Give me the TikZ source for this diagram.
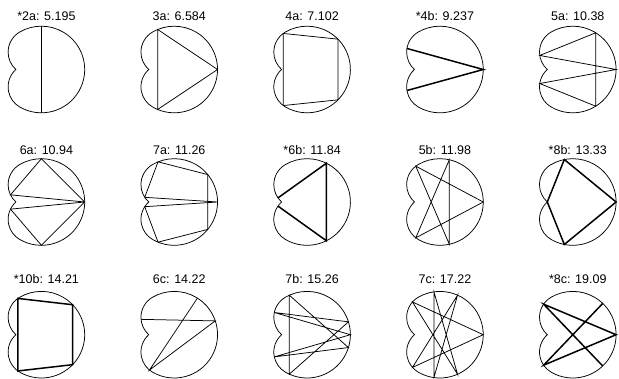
\documentclass[tikz,border=0pt]{standalone}
\usepackage{fontspec}
\setmainfont{Liberation Sans}
\usetikzlibrary{calc}
\newcommand\kidney[1]{\draw[outline] ($(#1)+(-120.1:43.3)$) arc[start angle=-120.1,end angle=120.1,radius=43.3] arc[start angle=120.1,end angle=228.37,radius=23.23] arc[start angle=131.63,end angle=239.9,radius=23.23] -- cycle;}
\newcommand\vtx[3]{\coordinate (#1) at ($(#2)+(#3:{br(#3)})$);}
\begin{document}
\begin{tikzpicture}[x=1pt,y=1pt,
  declare function={ba(\a)=-10.07*cos(\a)+17.36*abs(sin(\a)); br(\a)=(abs(\a)<=120.1)*43.3+(abs(\a)>120.1)*(ba(\a)+sqrt(ba(\a)^2+136.8));},
  outline/.style={line width=0.75pt},
  chord/.style={line width=0.75pt, line join=miter},
  boldchord/.style={line width=1.5pt, line join=miter},
  lab/.style={font=\fontsize{12.5}{14}\selectfont, anchor=base, inner sep=0pt}]
\useasboundingbox (0,0) rectangle (619,-379);
% centers
\foreach \n/\x/\y in {1/41.4/-69.5, 2/174.25/-69.5, 3/307.1/-69.5, 4/439.95/-69.5, 5/572.8/-69.5,
  6/41.4/-202, 7/174.25/-202, 8/307.1/-202, 9/439.95/-202, 10/572.8/-202,
  11/41.4/-334.7, 12/174.25/-334.7, 13/307.1/-334.7, 14/439.95/-334.7, 15/572.8/-334.7}
  {\coordinate (c\n) at (\x,\y);}
\foreach \n in {1,...,15} {\kidney{c\n}}
% labels
\node[lab] (l1) at (46.4,-20.7) {*2a: 5.195};
\node[lab] (l2) at (179.25,-20.7) {3a: 6.584};
\node[lab] (l3) at (312.1,-20.7) {4a: 7.102};
\node[lab] (l4) at (444.95,-20.7) {*4b: 9.237};
\node[lab] (l5) at (577.8,-20.7) {5a: 10.38};
\node[lab] (l6) at (46.4,-154.3) {6a: 10.94};
\node[lab] (l7) at (179.25,-154.3) {7a: 11.26};
\node[lab] (l8) at (312.1,-154.3) {*6b: 11.84};
\node[lab] (l9) at (444.95,-154.3) {5b: 11.98};
\node[lab] (l10) at (577.8,-154.3) {*8b: 13.33};
\node[lab] (l11) at (46.4,-283.5) {*10b: 14.21};
\node[lab] (l12) at (179.25,-283.5) {6c: 14.22};
\node[lab] (l13) at (312.1,-283.5) {7b: 15.26};
\node[lab] (l14) at (444.95,-283.5) {7c: 17.22};
\node[lab] (l15) at (577.8,-283.5) {*8c: 19.09};
% 2a
\vtx{a1}{c1}{90}\vtx{a2}{c1}{-90}
\draw[boldchord] (a1) -- (a2);
% 3a
\vtx{b1}{c2}{0}\vtx{b2}{c2}{112.5}\vtx{b3}{c2}{-112.5}
\draw[chord] (b1) -- (b2) -- (b3) -- cycle;
% 4a
\vtx{d1}{c3}{44.5}\vtx{d2}{c3}{123.5}\vtx{d3}{c3}{-123.5}\vtx{d4}{c3}{-44.5}
\draw[chord] (d1) -- (d2) -- (d3) -- (d4) -- cycle;
% 4b
\vtx{e1}{c4}{147.5}\vtx{e2}{c4}{0}\vtx{e3}{c4}{-147.5}
\draw[boldchord] (e1) -- (e2) -- (e3);
% 5a
\vtx{f1}{c5}{58}\vtx{f2}{c5}{157}\vtx{f3}{c5}{0}\vtx{f4}{c5}{-157}\vtx{f5}{c5}{-58}
\draw[chord] (f1) -- (f2) -- (f3) -- (f4) -- (f5) -- cycle;
% 6a
\vtx{g1}{c6}{90}\vtx{g2}{c6}{167}\vtx{g3}{c6}{0}\vtx{g4}{c6}{-167}\vtx{g5}{c6}{-90}
\draw[chord] (g1) -- (g2) -- (g3) -- (g4) -- (g5) -- (g3) -- cycle;
% 7a
\vtx{h1}{c7}{112}\vtx{h2}{c7}{39.3}\vtx{h3}{c7}{-39.3}\vtx{h4}{c7}{-112}\vtx{h5}{c7}{-171}\vtx{h6}{c7}{0}\vtx{h7}{c7}{171}
\draw[chord] (h1) -- (h2) -- (h3) -- (h4) -- (h5) -- (h6) -- (h7) -- cycle;
% 6b
\vtx{i1}{c8}{172}\vtx{i2}{c8}{63.5}\vtx{i3}{c8}{-63.5}\vtx{i4}{c8}{-172}
\draw[boldchord] (i1) -- (i2) -- (i3) -- (i4);
% 5b
\vtx{j1}{c9}{124}\vtx{j2}{c9}{77.5}\vtx{j3}{c9}{0}\vtx{j4}{c9}{-77.5}\vtx{j5}{c9}{-124}
\draw[chord] (j1) -- (j3) -- (j5) -- (j2) -- (j4) -- cycle;
% 8b
\vtx{k1}{c10}{101.3}\vtx{k2}{c10}{0}\vtx{k3}{c10}{-101.3}\vtx{k4}{c10}{180}
\draw[boldchord] (k1) -- (k2) -- (k3) -- (k4) -- cycle;
% 10b
\vtx{m1}{c11}{43.8}\vtx{m2}{c11}{123}\vtx{m3}{c11}{-123}\vtx{m4}{c11}{-43.8}
\draw[boldchord] (m1) -- (m2) -- (m3) -- (m4) -- cycle;
% 6c
\vtx{n1}{c12}{155.2}\vtx{n2}{c12}{18.6}\vtx{n3}{c12}{-125}\vtx{n4}{c12}{57.6}
\draw[chord] (n1) -- (n2) -- (n3) -- (n4);
% 7b
\vtx{o1}{c13}{0}\vtx{o2}{c13}{145.9}\vtx{o3}{c13}{17.25}\vtx{o4}{c13}{-114.25}\vtx{o5}{c13}{114.25}\vtx{o6}{c13}{-17.25}\vtx{o7}{c13}{-145.9}
\draw[chord] (o1) -- (o2) -- (o3) -- (o4) -- (o5) -- (o6) -- (o7) -- cycle;
% 7c
\vtx{p0}{c14}{0}\vtx{p1}{c14}{66}\vtx{p2}{c14}{98}\vtx{p3}{c14}{130}\vtx{p4}{c14}{-130}\vtx{p5}{c14}{-98}\vtx{p6}{c14}{-66}
\draw[chord] (p0) -- (p3) -- (p6) -- (p2) -- (p5) -- (p1) -- (p4) -- cycle;
% 8c
\vtx{q0}{c15}{46.25}\vtx{q1}{c15}{-133.75}\vtx{q2}{c15}{0}\vtx{q3}{c15}{133.75}\vtx{q4}{c15}{-46.25}
\draw[boldchord] (q0) -- (q1) -- (q2) -- (q3) -- (q4);
\end{tikzpicture}
\end{document}
